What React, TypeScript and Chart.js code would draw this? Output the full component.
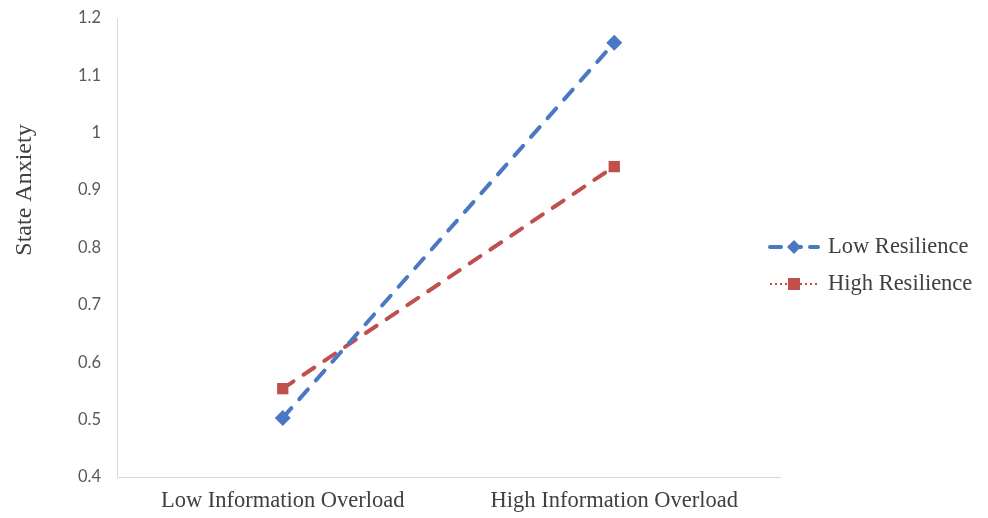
import React, { useEffect, useRef } from "react";
import { Chart, registerables } from "chart.js";

Chart.register(...registerables);

const categories = ["Low Information Overload", "High Information Overload"];
const lowResilience = [0.503, 1.157];
const highResilience = [0.554, 0.941];
const seriesNames = ["Low Resilience", "High Resilience"];
const yTitle = "State Anxiety";

const BLUE = "#4a78c2";
const RED = "#c0504d";

const overlayPlugin = {
  id: "overlay",
  afterDraw(chart: any) {
    const ctx = chart.ctx;
    ctx.save();
    // y axis title
    ctx.translate(25, 190);
    ctx.rotate(-Math.PI / 2);
    ctx.font = '24px "Liberation Serif", serif';
    ctx.fillStyle = "#404040";
    ctx.textAlign = "center";
    ctx.textBaseline = "middle";
    ctx.fillText(yTitle, 0, 0);
    ctx.restore();

    // legend
    const items = [
      { name: seriesNames[0], color: BLUE, y: 247, dash: [11, 9], width: 4, shape: "diamond" },
      { name: seriesNames[1], color: RED, y: 284, dash: [2, 3], width: 2, shape: "square" },
    ];
    items.forEach((it) => {
      ctx.save();
      ctx.strokeStyle = it.color;
      ctx.lineWidth = it.width;
      ctx.lineCap = it.shape === "diamond" ? "round" : "butt";
      ctx.setLineDash(it.dash);
      ctx.beginPath();
      ctx.moveTo(770, it.y);
      ctx.lineTo(818, it.y);
      ctx.stroke();
      ctx.setLineDash([]);
      ctx.fillStyle = it.color;
      ctx.beginPath();
      const cx = 794;
      if (it.shape === "diamond") {
        ctx.moveTo(cx, it.y - 7);
        ctx.lineTo(cx + 7, it.y);
        ctx.lineTo(cx, it.y + 7);
        ctx.lineTo(cx - 7, it.y);
      } else {
        ctx.rect(cx - 6, it.y - 6, 12, 12);
      }
      ctx.closePath();
      ctx.fill();
      ctx.font = '22.5px "Liberation Serif", serif';
      ctx.fillStyle = "#404040";
      ctx.textAlign = "left";
      ctx.textBaseline = "middle";
      ctx.fillText(it.name, 828, it.y);
      ctx.restore();
    });
  },
};

export default function App() {
  const ref = useRef<HTMLCanvasElement>(null);
  useEffect(() => {
    const chart = new Chart(ref.current as HTMLCanvasElement, {
      type: "line",
      data: {
        labels: categories,
        datasets: [
          {
            label: seriesNames[0],
            data: lowResilience,
            borderColor: BLUE,
            backgroundColor: BLUE,
            borderWidth: 4,
            borderDash: [13, 12],
            borderCapStyle: "round",
            pointStyle: "rectRot",
            pointRadius: 8,
            pointBorderWidth: 0,
          },
          {
            label: seriesNames[1],
            data: highResilience,
            borderColor: RED,
            backgroundColor: RED,
            borderWidth: 4,
            borderDash: [13, 12],
            borderCapStyle: "round",
            pointStyle: "rect",
            pointRadius: 8,
            pointBorderWidth: 0,
          },
        ],
      },
      options: {
        animation: false,
        responsive: false,
        maintainAspectRatio: false,
        layout: { padding: { top: 18, right: 208, left: 0, bottom: 0 } },
        plugins: { legend: { display: false }, tooltip: { enabled: false } },
        scales: {
          x: {
            offset: true,
            grid: { display: false, drawTicks: false },
            border: { color: "#d9d9d9", width: 1 },
            ticks: {
              font: { family: '"Liberation Serif", serif', size: 22.5 },
              color: "#404040",
              padding: 11,
              maxRotation: 0,
            },
            afterFit(scale: any) {
              scale.height = 41;
              scale.paddingLeft = 0;
              scale.paddingRight = 0;
            },
          },
          y: {
            min: 0.4,
            max: 1.2,
            grid: { display: false, drawTicks: false },
            border: { color: "#d9d9d9", width: 1 },
            ticks: {
              stepSize: 0.1,
              font: { family: "Lato, sans-serif", size: 16.5 },
              color: "#595959",
              padding: 16,
              callback: (v: any) => String(Math.round(Number(v) * 10) / 10),
            },
            afterFit(scale: any) {
              scale.width = 117;
              scale.paddingTop = 0;
              scale.paddingBottom = 0;
            },
          },
        },
      },
      plugins: [overlayPlugin],
    });
    return () => chart.destroy();
  }, []);
  return (
    <div style={{ position: "absolute", left: 0, top: 0, width: 988, height: 518, background: "#fff" }}>
      <canvas ref={ref} width={988} height={518} style={{ width: 988, height: 518 }} />
    </div>
  );
}
